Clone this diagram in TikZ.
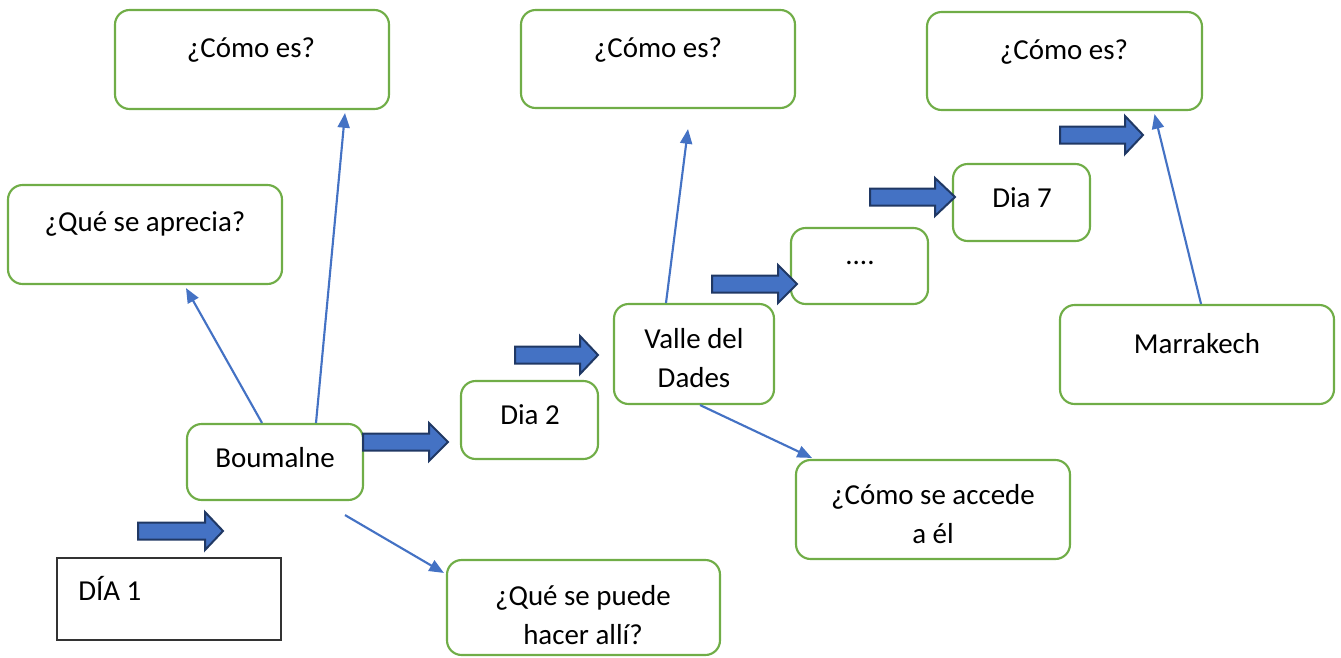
\documentclass[tikz,border=0pt]{standalone}
\usepackage{fontspec}
\setmainfont{Carlito}
\usetikzlibrary{arrows.meta,fit,calc}
\definecolor{grn}{HTML}{70AD47}
\definecolor{blu}{HTML}{4472C4}
\definecolor{dblu}{HTML}{203864}
\tikzset{
 box/.style={draw=grn, line width=1.6pt, rounded corners=11pt, inner sep=0pt},
 plainbox/.style={draw=black!80, line width=1pt, inner sep=0pt},
 txt/.style={font=\fontsize{21.7}{29}\selectfont, align=center, inner sep=0pt},
 conn/.style={draw=blu, line width=1.6pt, -{Triangle[length=11pt,width=9pt]}},
 blk/.style={fill=blu, draw=dblu, line width=1.5pt, line join=miter},
}
\newcommand\blkarrow[4]{%
 \draw[blk] ({#1},{#4-8.5}) -- ({#2},{#4-8.5}) -- ({#2},{#4-19}) -- ({#3},{#4}) -- ({#2},{#4+19}) -- ({#2},{#4+8.5}) -- ({#1},{#4+8.5}) -- cycle;}
\begin{document}
\begin{tikzpicture}[x=0.75pt,y=-0.75pt]
\useasboundingbox (0,0) rectangle (1341,657);
% boxes
\node[box, fit={(115,10)(389,109)}] (como1) {};
\node[box, fit={(8,185)(282,284)}] (aprecia) {};
\node[box, fit={(187,424)(363,500)}] (boum) {};
\node[plainbox, fit={(57,558)(281,640)}] (dia1) {};
\node[box, fit={(447,560)(720,655)}] (puede) {};
\node[box, fit={(461,381)(598,459)}] (dia2) {};
\node[box, fit={(614,304)(774,404)}] (valle) {};
\node[box, fit={(521,10)(795,108)}] (como2) {};
\node[box, fit={(796,460)(1070,559)}] (accede) {};
\node[box, fit={(791,228)(928,304)}] (dots) {};
\node[box, fit={(953,164)(1090,241)}] (dia7) {};
\node[box, fit={(927,12)(1202,110)}] (como3) {};
\node[box, fit={(1060,305)(1334,404)}] (marr) {};
% texts
\node[txt] (t1) at (251,50) {¿Cómo es?};
\node[txt] (t2) at (145,224) {¿Qué se aprecia?};
\node[txt] (t3) at (275,458) {Boumalne};
\node[txt, anchor=west] (t4) at (78,588) {DÍA 1};
\node[txt] (t5) at (583,615) {¿Qué se puede\\hacer allí?};
\node[txt] (t6) at (530,415) {Dia 2};
\node[txt] (t7) at (694,358) {Valle del\\Dades};
\node[txt] (t8) at (658,50) {¿Cómo es?};
\node[txt] (t9) at (933,514) {¿Cómo se accede\\a él};
\node[txt] (t10) at (860,263) {....};
\node[txt] (t11) at (1022,198) {Dia 7};
\node[txt] (t12) at (1064,52) {¿Cómo es?};
\node[txt] (t13) at (1197,344) {Marrakech};
% connectors
\draw[conn] ($(boum.north)+(-13,0)$) -- ($(aprecia.south)+(41,3)$);
\draw[conn] ($(boum.north)+(41,0)$) -- ($(como1.south)+(93,3)$);
\draw[conn] ($(boum.south)+(70,14)$) -- ($(puede.north west)+(-2,14)$);
\draw[conn] ($(valle.north)+(-28,0)$) -- ($(como2.south)+(30,20)$);
\draw[conn] ($(valle.south)+(6,0)$) -- ($(accede.north)+(-121,-1)$);
\draw[conn] ($(marr.north)+(4,0)$) -- ($(como3.south)+(90,3)$);
% block arrows
\blkarrow{138}{205}{223}{531}
\blkarrow{363}{429}{448}{442}
\blkarrow{515}{580}{598}{355}
\blkarrow{712}{778}{797}{284}
\blkarrow{870}{935}{955}{197}
\blkarrow{1060}{1125}{1143}{135}
\end{tikzpicture}
\end{document}
